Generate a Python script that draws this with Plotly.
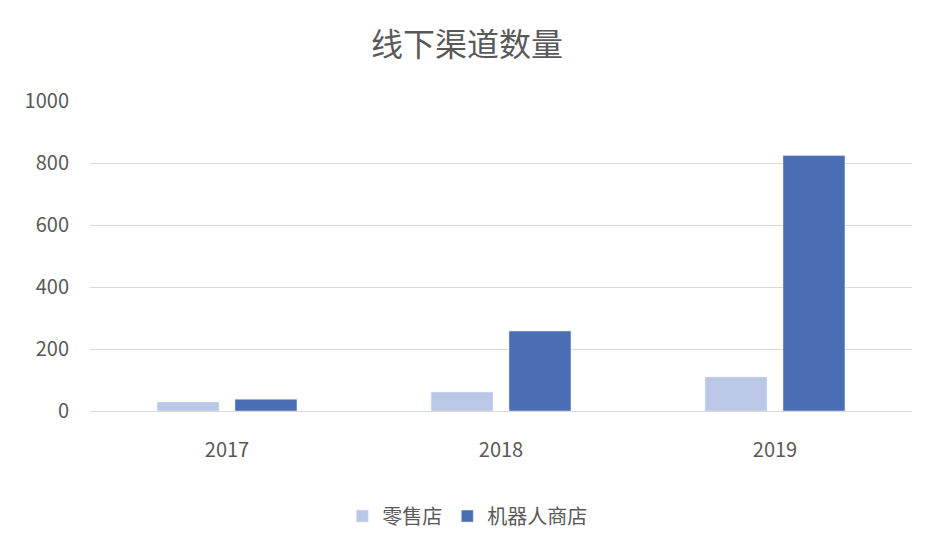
import plotly.graph_objects as go

years = ["2017", "2018", "2019"]
retail = [29, 61, 110]
robot = [38, 258, 824]
series_names = ["零售店", "机器人商店"]
y_ticks = [0, 200, 400, 600, 800, 1000]

FONT = "Noto Sans CJK SC, Microsoft YaHei, sans-serif"
GRAY = "#595959"

fig = go.Figure()
fig.add_trace(go.Bar(x=years, y=retail, name=series_names[0], marker_color="#bac8e6"))
fig.add_trace(go.Bar(x=years, y=robot, name=series_names[1], marker_color="#4a6db3"))

fig.update_layout(
    width=933, height=539,
    paper_bgcolor="white", plot_bgcolor="white",
    margin=dict(l=82, r=29, t=93, b=136),
    font=dict(family=FONT, color=GRAY, size=20),
    title=dict(text="线下渠道数量", x=0.492, xanchor="center", y=0.931, yanchor="middle",
               font=dict(size=32, color=GRAY, family=FONT)),
    barmode="group", bargap=0.431, bargroupgap=0.205,
    showlegend=True,
    legend=dict(orientation="h", x=0.459, xanchor="center", y=-0.339, yanchor="middle",
                font=dict(size=20, color=GRAY), traceorder="normal"),
)
fig.update_xaxes(showgrid=False, showline=True, linecolor="#d9d9d9", linewidth=1,
                 ticks="", ticklabelstandoff=21, tickfont=dict(size=20, color=GRAY))
fig.update_yaxes(range=[0, 1000], tickvals=y_ticks, showgrid=True, gridcolor="#d9d9d9",
                 gridwidth=1, zeroline=False, showline=False, ticks="",
                 ticklabelstandoff=20, tickfont=dict(size=20, color=GRAY))

fig.write_html("out.html")
